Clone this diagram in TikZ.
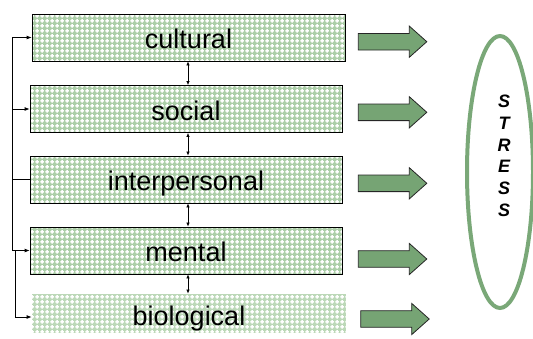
\documentclass[tikz,border=0pt]{standalone}
\usepackage{fontspec}
\setmainfont{Liberation Sans}
\usetikzlibrary{patterns,arrows.meta,shapes.geometric}
\definecolor{boxgreen}{RGB}{172,206,168}
\definecolor{boxgreenlight}{RGB}{188,216,184}
\definecolor{arrowgreen}{RGB}{118,164,116}
\definecolor{ringgreen}{RGB}{122,168,120}
\pgfdeclarepatternformonly{whitecross}{\pgfqpoint{0pt}{0pt}}{\pgfqpoint{5pt}{5pt}}{\pgfqpoint{5pt}{5pt}}{%
  \pgfpathrectangle{\pgfqpoint{1.5pt}{0.5pt}}{\pgfqpoint{2pt}{4pt}}%
  \pgfpathrectangle{\pgfqpoint{0.5pt}{1.5pt}}{\pgfqpoint{4pt}{2pt}}%
  \pgfusepath{fill}}
\tikzset{
  factor/.style={draw=black, line width=0.8pt, preaction={fill=boxgreen},
    pattern=whitecross, pattern color=white, inner sep=0pt,
    font=\fontsize{27}{30}\selectfont, text height=34.5pt, text depth=12.5pt},
  factorlight/.style={factor, draw=none, preaction={fill=boxgreenlight},
    text height=31pt, text depth=8pt},
  linkarrow/.style={line width=0.7pt, {Latex[length=4pt,width=3.5pt]}-{Latex[length=4pt,width=3.5pt]}},
  feed/.style={line width=0.8pt, -{Latex[length=5pt,width=4pt]}},
  trunkline/.style={line width=0.8pt},
  blockarrow/.pic={\draw[fill=arrowgreen, draw=black!85, line width=0.8pt]
    (0,-8.3) -- (51,-8.3) -- (51,-15.6) -- (68.5,0) -- (51,15.6) -- (51,8.3) -- (0,8.3) -- cycle;},
  ring/.style={ellipse, draw=ringgreen, line width=4pt, inner sep=0pt,
    minimum width=66pt, minimum height=272pt},
  stressfont/.style={font=\bfseries\itshape\fontsize{18}{21.7}\selectfont, align=center}
}
\begin{document}
\begin{tikzpicture}[x=1pt,y=-1pt]
\useasboundingbox (0,0) rectangle (533,338);
% factor boxes
\node[factor, minimum width=313pt] (cultural) at (188.5,37.5) {cultural};
\node[factor, minimum width=312pt] (social) at (186,109) {social};
\node[factor, minimum width=312pt] (interpersonal) at (186,179.5) {interpersonal};
\node[factor, minimum width=312pt] (mental) at (186,250.5) {mental};
\node[factorlight, minimum width=314pt] (biological) at (189,313.5) {biological};
% helper coordinates
\coordinate (mid) at (188,0);
\coordinate (trunk) at (12,0);
\coordinate (subtrunk) at (15,0);
% links between boxes
\draw[linkarrow] (cultural.south -| mid) -- (social.north -| mid);
\draw[linkarrow] (social.south -| mid) -- (interpersonal.north -| mid);
\draw[linkarrow] (interpersonal.south -| mid) -- (mental.north -| mid);
\draw[linkarrow] (mental.south -| mid) -- (biological.north -| mid);
% left bracket
\draw[trunkline] (cultural.west -| trunk) -- (mental.west -| trunk);
\draw[feed] (cultural.west -| trunk) -- (cultural.west);
\draw[feed] (social.west -| trunk) -- (social.west);
\draw[line width=1.2pt] (interpersonal.west -| trunk) -- (interpersonal.west);
\draw[feed] (mental.west -| trunk) -- (mental.west);
\coordinate (bioin) at ([yshift=-3.5pt]biological.west);
\draw[trunkline] (mental.west -| subtrunk) -- (bioin -| subtrunk);
\draw[feed] (bioin -| subtrunk) -- (bioin);
% block arrows
\pic (a1) at (358.3,41.7) {blockarrow};
\pic (a2) at (358.3,112.3) {blockarrow};
\pic (a3) at (358.3,183.3) {blockarrow};
\pic (a4) at (358.3,259) {blockarrow};
\pic (a5) at (360.7,319) {blockarrow};
% stress ellipse
\node[ring] (stress) at (500,172) {};
\node[stressfont] (stresstext) at (504,155.7) {S\\T\\R\\E\\S\\S};
\end{tikzpicture}
\end{document}
